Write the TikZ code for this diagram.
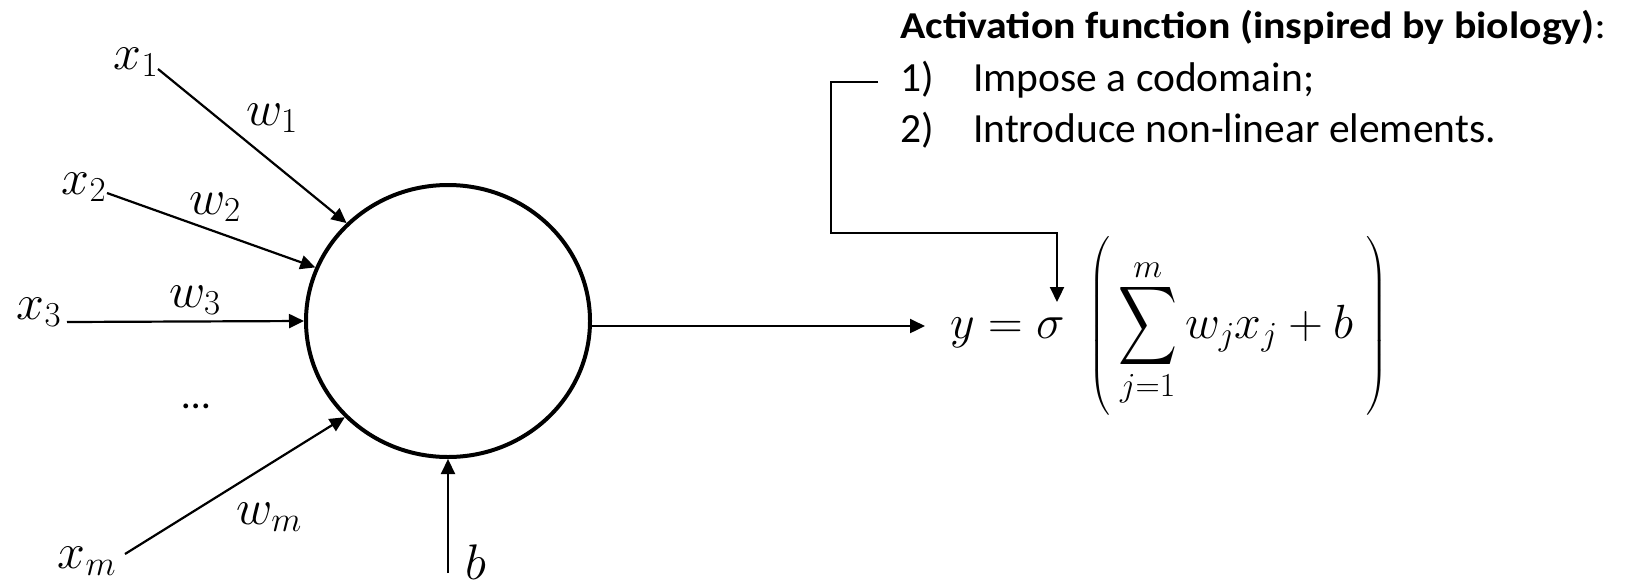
\RequirePackage{fix-cm}
\documentclass[tikz,border=0pt]{standalone}
\usepackage{exscale}
\usepackage{graphicx}
\usepackage[no-math]{fontspec}
\newfontfamily\calibri{Carlito}
\usetikzlibrary{arrows.meta,shapes.geometric}

% tall, narrow summation sign
\newcommand{\tallsum}{\mathop{\vcenter{\hbox{\resizebox*{59pt}{88pt}{$\displaystyle\sum$}}}}\limits}

\tikzset{
  wire/.style={line width=2.2pt, -{Triangle[length=15pt,width=14pt]}},
  var/.style={inner sep=0pt, font=\fontsize{50}{60}\selectfont},
  note/.style={inner sep=0pt, anchor=base west, font=\calibri\fontsize{41.5}{50}\selectfont},
  head/.style={inner sep=0pt, anchor=base west, font=\calibri\fontsize{38}{46}\selectfont},
  neuronbody/.style={ellipse, draw, line width=4pt, minimum width=284pt, minimum height=272pt, inner sep=0pt}
}

\begin{document}
\begin{tikzpicture}[x=1pt,y=-1pt]
\useasboundingbox (0,0) rectangle (1645,584);

% the neuron
\node[neuronbody] (neuron) at (448,321) {};

% inputs and their weights
\node[var] (x1) at (136,62)  {$x_1$};
\node[var] (x2) at (84,187)  {$x_2$};
\node[var] (x3) at (39,312)  {$x_3$};
\node[var] (xm) at (87,561)  {$x_m$};
\node[var] (w1) at (272,118) {$w_1$};
\node[var] (w2) at (215,207) {$w_2$};
\node[var] (w3) at (195,300) {$w_3$};
\node[var] (wm) at (269,517) {$w_m$};
\node[inner sep=0pt, font=\calibri\fontsize{40}{48}\selectfont] (dots) at (196,406) {…};
\node[var] (b) at (476,562) {$b$};

\coordinate (s1) at (158,69);
\coordinate (s2) at (107,193);
\coordinate (s3) at (67,322);
\coordinate (sm) at (125,554);
\coordinate (sb) at (448,573);

\draw[wire] (s1) -- (neuron.136.7);
\draw[wire] (s2) -- (neuron.158.3);
\draw[wire] (s3) -- (neuron.west);
\draw[wire] (sm) -- (neuron.223.6);
\draw[wire] (sb) -- (neuron.south);

% output and activation
\node[inner sep=0pt, anchor=base west, font=\fontsize{48}{58}\selectfont] (out) at (950,338)
  {$\displaystyle y=\sigma\hspace{16pt}\left(\rule[-70pt]{0pt}{170pt}\tallsum_{j=1}^{m} w_j x_j + b\;\right)$};
\coordinate (tip) at (925,326);
\draw[wire] (neuron.-2) -- (neuron.-2 -| tip);

% activation note
\node[head] (title) at (900,38) {\scalebox{1.1}[1]{\textbf{Activation function (inspired by biology)}:}};
\node[note] (one) at (900,91) {\makebox[73pt][l]{1)}Impose a codomain;};
\node[note] (two) at (900,142) {\makebox[73pt][l]{2)}Introduce non-linear elements.};

\coordinate (bend) at (1057,233);
\coordinate (sig) at (1057,302);
\draw[wire] ([xshift=-22pt,yshift=-3pt]one.west) -- ++(-47,0) |- (bend) -- (sig);
\end{tikzpicture}
\end{document}
